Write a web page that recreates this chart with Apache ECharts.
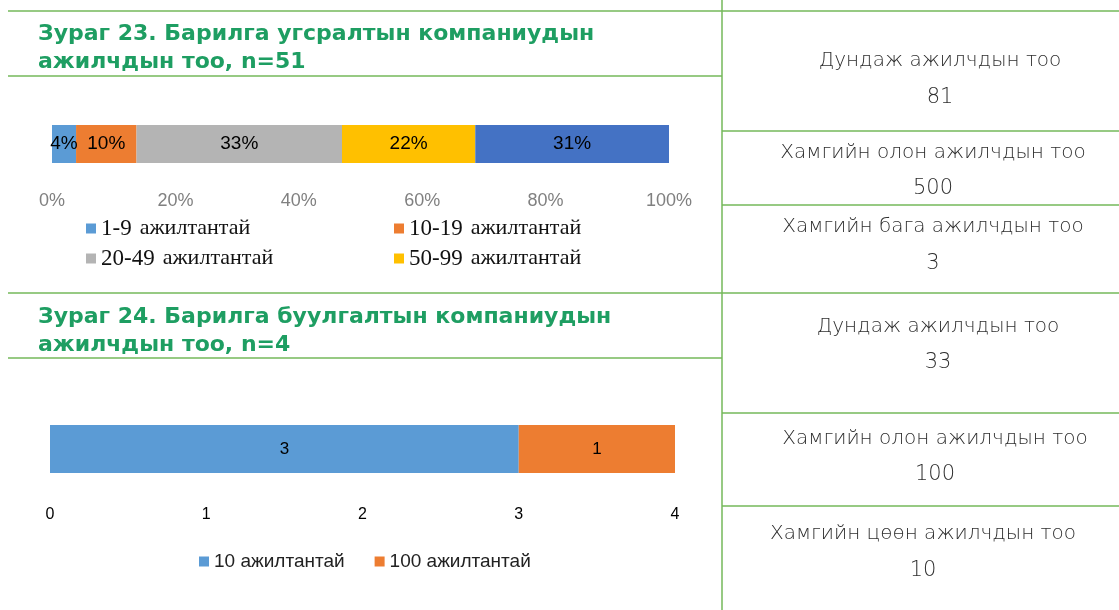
<!DOCTYPE html>
<html><head><meta charset="utf-8">
<script src="https://cdn.jsdelivr.net/npm/echarts@6/dist/echarts.min.js"></script>
<style>html,body{margin:0;padding:0;background:#fff}#c{width:1119px;height:610px}</style>
</head><body><div id="c"></div>
<script>
// Chart 23 (n=51): share of companies by employee group, %
const cats1 = ['Барилга угсралт'];
const groups1 = ['1-9 ажилтантай','10-19 ажилтантай','20-49 ажилтантай','50-99 ажилтантай','100+ ажилтантай'];
const values1 = [3.9, 9.8, 33.3, 21.6, 31.4];
const ticks1 = [0, 20, 40, 60, 80, 100];
// Chart 24 (n=4): number of companies
const cats2 = ['Барилга буулгалт'];
const groups2 = ['10 ажилтантай','100 ажилтантай'];
const values2 = [3, 1];
const ticks2 = [0, 1, 2, 3, 4];
// Side panel stats
const stats1 = [['Дундаж ажилчдын тоо','81'],['Хамгийн олон ажилчдын тоо','500'],['Хамгийн бага ажилчдын тоо','3']];
const stats2 = [['Дундаж ажилчдын тоо','33'],['Хамгийн олон ажилчдын тоо','100'],['Хамгийн цөөн ажилчдын тоо','10']];

const colors1 = ['#5b9bd5','#ed7d31','#b4b4b4','#ffc000','#4472c4'];
const colors2 = ['#5b9bd5','#ed7d31'];
const green = '#74b95a';
const titleGreen = '#1e9e62';
const sans = 'Liberation Sans, Arial, sans-serif';
const serif = 'Liberation Serif, DejaVu Serif, serif';

const chart = echarts.init(document.getElementById('c'), null, {renderer:'canvas'});

const series = [];
groups1.forEach((g,i)=>{
  series.push({
    name:g, type:'bar', stack:'a', xAxisIndex:0, yAxisIndex:0, barWidth:38,
    data:[values1[i]], itemStyle:{color:colors1[i]},
    label:{show:true, position:'inside', color:'#000', fontSize:19, fontFamily:sans,
      formatter:p=>Math.round(p.value)+'%'}
  });
});
groups2.forEach((g,i)=>{
  series.push({
    name:g, type:'bar', stack:'b', xAxisIndex:1, yAxisIndex:1, barWidth:48,
    data:[values2[i]], itemStyle:{color:colors2[i]},
    label:{show:true, position:'inside', color:'#000', fontSize:17, fontFamily:sans}
  });
});

function line(x1,y1,x2,y2){return {type:'line',shape:{x1,y1,x2,y2},style:{stroke:green,lineWidth:1.5},silent:true};}
function txt(x,y,t,size){return {type:'text',x,y,style:{text:t,align:'center',verticalAlign:'middle',fill:'#2e2e2e',font:'200 '+(size||20)+'px "DejaVu Sans", sans-serif'},silent:true};}

const graphics = [
  line(8,11,1119,11), line(8,76,722,76), line(8,293,1119,293), line(8,358,722,358),
  line(722,0,722,610),
  line(722,131,1119,131), line(722,205,1119,205), line(722,413,1119,413), line(722,506,1119,506),
  {type:'text',left:38,top:20,style:{text:'Зураг 23. Барилга угсралтын компаниудын\nажилчдын тоо, n=51',fill:titleGreen,font:'bold 22px "DejaVu Sans", sans-serif',lineHeight:28},silent:true},
  {type:'text',left:38,top:303,style:{text:'Зураг 24. Барилга буулгалтын компаниудын\nажилчдын тоо, n=4',fill:titleGreen,font:'bold 22px "DejaVu Sans", sans-serif',lineHeight:28},silent:true}
];
const ys1 = [[61,98],[153,189],[227,264]];
const xs1 = [940,933,933];
stats1.forEach((s,i)=>{graphics.push(txt(xs1[i],ys1[i][0],s[0]));graphics.push(txt(xs1[i],ys1[i][1],s[1],21));});
const ys2 = [[327,363],[439,475],[534,571]];
const xs2 = [938,935,923];
stats2.forEach((s,i)=>{graphics.push(txt(xs2[i],ys2[i][0],s[0]));graphics.push(txt(xs2[i],ys2[i][1],s[1],21));});

const legendPos = [[86,217],[394,217],[86,247],[394,247]];
const legends = groups1.slice(0,4).map((g,i)=>({
  data:[g], left:legendPos[i][0], top:legendPos[i][1], padding:0, icon:'rect', itemWidth:10, itemHeight:10, itemGap:6,
  selectedMode:false,
  formatter:n=>{const k=n.indexOf(' ');return '{n|'+n.slice(0,k)+'}{s|}{w|'+n.slice(k+1)+'}';},
  textStyle:{rich:{
    n:{fontFamily:serif,fontSize:23,color:'#111'},
    s:{width:8},
    w:{fontFamily:serif,fontSize:22,color:'#111'}
  }}
}));
legends.push({
  data:groups2, left:199, top:552, padding:0, icon:'rect', itemWidth:10, itemHeight:10, itemGap:30, selectedMode:false,
  textStyle:{fontFamily:sans,fontSize:19,color:'#222'}
});

chart.setOption({
  animation:false,
  grid:[{left:52,width:617,top:125,height:38},{left:50,width:625,top:425,height:48}],
  xAxis:[
    {gridIndex:0,type:'value',min:ticks1[0],max:ticks1[ticks1.length-1],interval:ticks1[1]-ticks1[0],
     axisLine:{show:false},axisTick:{show:false},splitLine:{show:false},
     axisLabel:{formatter:'{value}%',color:'#808080',fontSize:18,fontFamily:sans,margin:29}},
    {gridIndex:1,type:'value',min:ticks2[0],max:ticks2[ticks2.length-1],interval:ticks2[1]-ticks2[0],
     axisLine:{show:false},axisTick:{show:false},splitLine:{show:false},
     axisLabel:{color:'#000',fontSize:16,fontFamily:sans,margin:34}}
  ],
  yAxis:[
    {gridIndex:0,type:'category',data:cats1,show:false},
    {gridIndex:1,type:'category',data:cats2,show:false}
  ],
  legend:legends,
  series:series,
  graphic:graphics
});
</script></body></html>
